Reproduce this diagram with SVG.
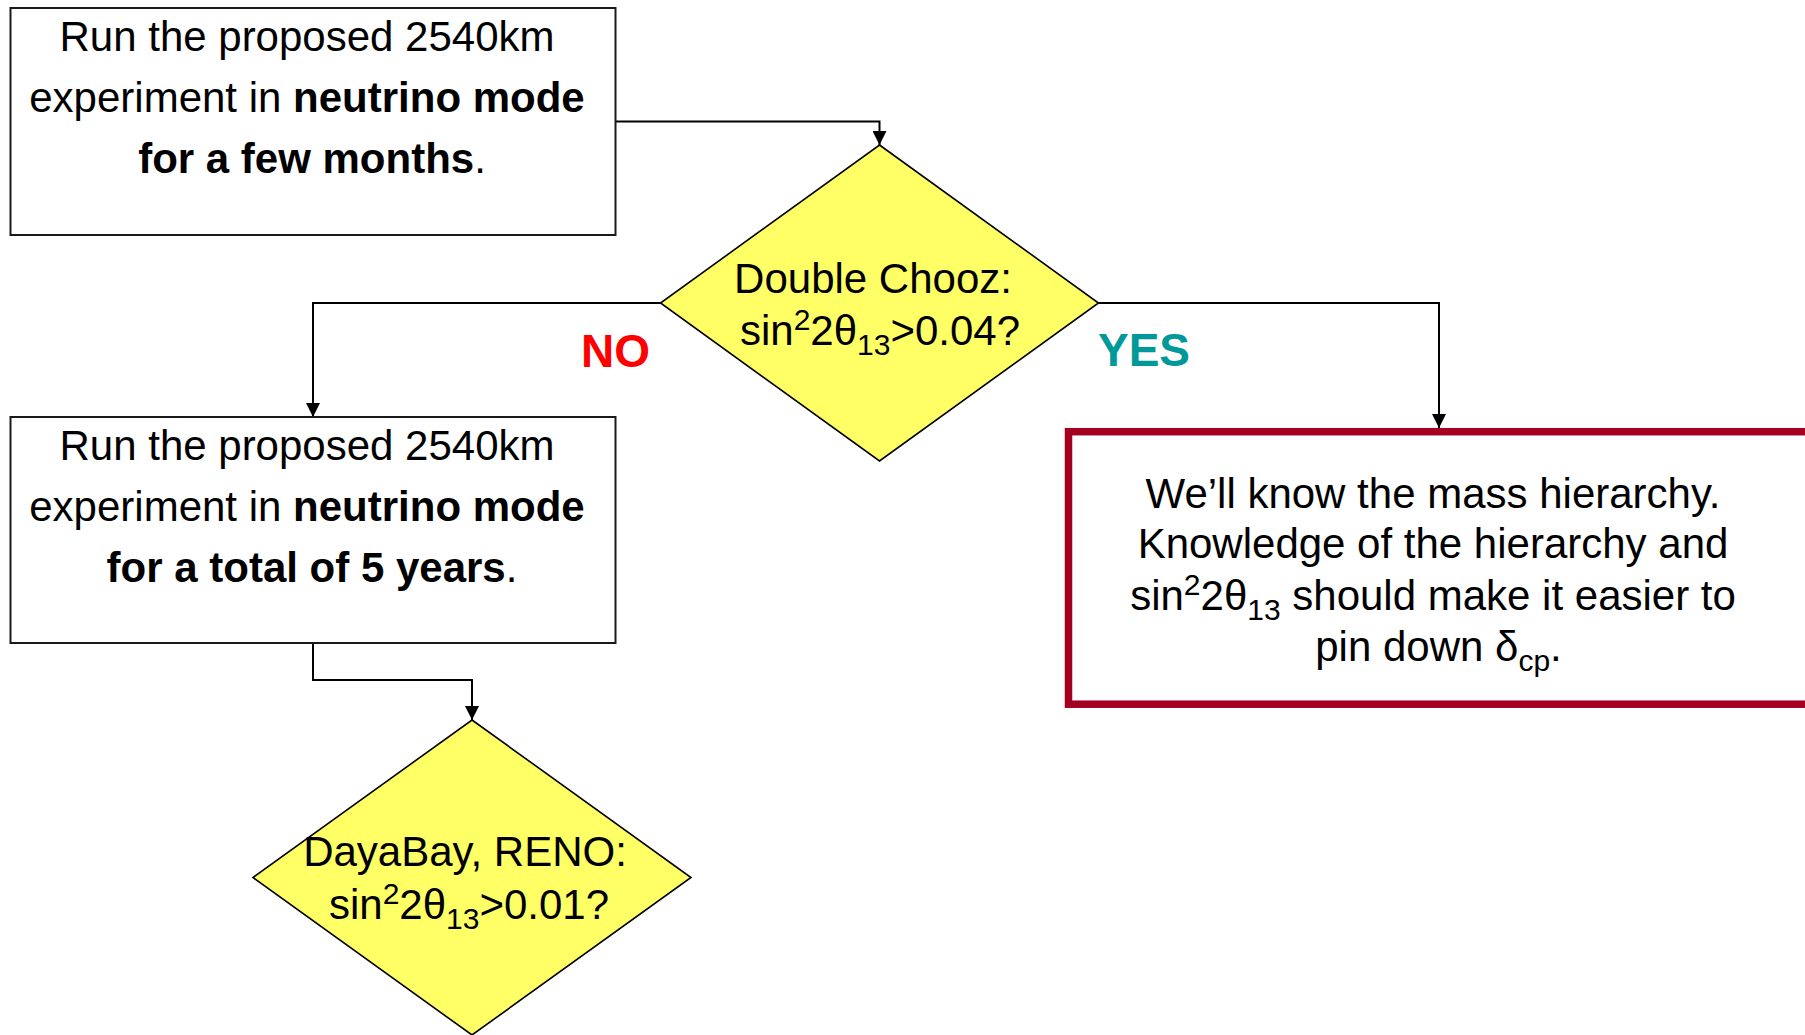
<svg xmlns="http://www.w3.org/2000/svg" width="1805" height="1035" viewBox="0 0 1805 1035">
<style>
  text { font-family: "Liberation Sans", Arial, sans-serif; font-size: 42px; fill: #000; }
  .b { font-weight: bold; }
  .box { fill: #fff; stroke: #1a1a1a; stroke-width: 2; }
  .dia { fill: #FFFF66; stroke: #000; stroke-width: 1.6; }
  .conn { fill: none; stroke: #000; stroke-width: 2; marker-end: url(#arr); }
  .lbl { font-size: 46px; font-weight: bold; }
  .ss { font-size: 30px; }
</style>
<defs>
  <marker id="arr" viewBox="0 0 14 14" markerWidth="14" markerHeight="14" refX="14" refY="7" orient="auto" markerUnits="userSpaceOnUse">
    <path d="M0,0 L14,7 L0,14 z" fill="#000"/>
  </marker>
</defs>
<rect width="1805" height="1035" fill="#fff"/>

<g id="connectors">
  <path class="conn" d="M616 121.5 H879.5 V145"/>
  <path class="conn" d="M660.5 303 H313 V417"/>
  <path class="conn" d="M1098.5 303 H1439 V428"/>
  <path class="conn" d="M313 643 V680 H472 V720"/>
  <text class="lbl" x="581" y="367" style="fill:#FF0000">NO</text>
  <text class="lbl" x="1098" y="366" style="fill:#009999">YES</text>
</g>

<g id="box1">
  <rect class="box" x="10.5" y="8" width="605" height="227"/>
  <text x="307" y="51" text-anchor="middle">Run the proposed 2540km</text>
  <text x="307" y="112" text-anchor="middle">experiment in <tspan class="b">neutrino mode</tspan></text>
  <text x="312" y="173" text-anchor="middle"><tspan class="b">for a few months</tspan>.</text>
</g>

<g id="decision1">
  <polygon class="dia" points="879.5,145 1098.5,303 879.5,461 660.5,303"/>
  <text x="873" y="293" text-anchor="middle">Double Chooz:</text>
  <text x="880" y="345" text-anchor="middle">sin<tspan class="ss" dy="-15">2</tspan><tspan dy="15">2θ</tspan><tspan class="ss" dy="10">13</tspan><tspan dy="-10">&gt;0.04?</tspan></text>
</g>

<g id="box2">
  <rect class="box" x="10.5" y="417" width="605" height="226"/>
  <text x="307" y="460" text-anchor="middle">Run the proposed 2540km</text>
  <text x="307" y="521" text-anchor="middle">experiment in <tspan class="b">neutrino mode</tspan></text>
  <text x="312" y="582" text-anchor="middle"><tspan class="b">for a total of 5 years</tspan>.</text>
</g>

<g id="result">
  <rect x="1068.5" y="431.7" width="800" height="272.5" fill="#fff" stroke="#A50021" stroke-width="7.5"/>
  <text x="1433" y="508" text-anchor="middle">We’ll know the mass hierarchy.</text>
  <text x="1433" y="558" text-anchor="middle">Knowledge of the hierarchy and</text>
  <text x="1433" y="610" text-anchor="middle">sin<tspan class="ss" dy="-15">2</tspan><tspan dy="15">2θ</tspan><tspan class="ss" dy="10">13</tspan><tspan dy="-10"> should make it easier to</tspan></text>
  <text x="1438.5" y="661" text-anchor="middle">pin down δ<tspan class="ss" dy="10">cp</tspan><tspan dy="-10">.</tspan></text>
</g>

<g id="decision2">
  <polygon class="dia" points="472,720 691,877.5 472,1035 253,877.5"/>
  <text x="465" y="866" text-anchor="middle">DayaBay, RENO:</text>
  <text x="469" y="919" text-anchor="middle">sin<tspan class="ss" dy="-15">2</tspan><tspan dy="15">2θ</tspan><tspan class="ss" dy="10">13</tspan><tspan dy="-10">&gt;0.01?</tspan></text>
</g>
</svg>
